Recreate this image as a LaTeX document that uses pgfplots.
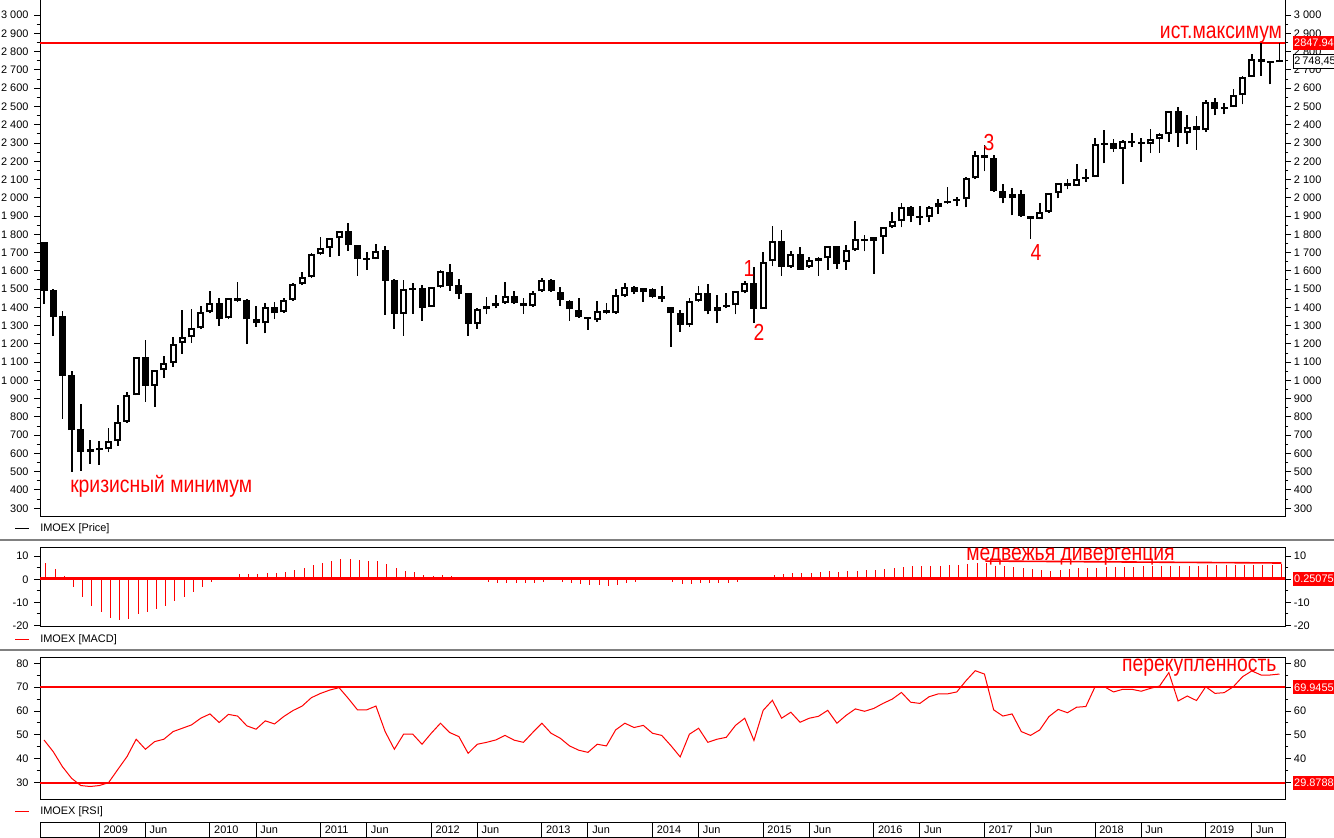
\documentclass[border=0pt]{standalone}
\usepackage{fontspec}
\setmainfont{Liberation Sans}
\usepackage{graphicx}
\usepackage{pgfplots}
\pgfplotsset{compat=1.18}
\usepackage{pgfplotstable}
\definecolor{cred}{RGB}{255,0,0}
\definecolor{sepgray}{RGB}{128,128,128}

\pgfplotstableread{
i O H L C
0 1758 1760 1418 1491
1 1495 1500 1243 1347
2 1353 1382 789 1026
3 1030 1052 500 728
4 734 873 506 610
5 610 674 544 623
6 621 668 537 624
7 623 738 606 670
8 666 865 643 771
9 771 935 767 920
10 920 1128 918 1126
11 1126 1221 884 971
12 971 1057 856 1055
13 1055 1134 1015 1094
14 1094 1238 1075 1198
15 1203 1386 1145 1236
16 1236 1389 1207 1285
17 1285 1408 1280 1373
18 1373 1490 1367 1422
19 1422 1450 1298 1334
20 1340 1454 1338 1450
21 1450 1539 1431 1437
22 1440 1444 1199 1334
23 1334 1408 1294 1313
24 1313 1422 1258 1400
25 1400 1429 1335 1367
26 1373 1451 1371 1439
27 1439 1534 1437 1526
28 1526 1594 1521 1565
29 1565 1696 1563 1690
30 1690 1785 1688 1723
31 1723 1780 1678 1778
32 1778 1819 1683 1817
33 1817 1860 1711 1740
34 1740 1742 1574 1667
35 1665 1701 1605 1668
36 1667 1745 1663 1707
37 1712 1736 1360 1546
38 1550 1554 1283 1366
39 1366 1550 1245 1499
40 1497 1532 1366 1500
41 1504 1521 1327 1398
42 1404 1513 1402 1510
43 1510 1605 1508 1599
44 1592 1636 1492 1519
45 1521 1555 1444 1475
46 1477 1481 1245 1311
47 1311 1395 1283 1389
48 1389 1455 1362 1406
49 1406 1466 1395 1422
50 1422 1539 1420 1460
51 1460 1490 1420 1422
52 1422 1451 1366 1406
53 1406 1490 1404 1477
54 1488 1559 1486 1548
55 1548 1554 1486 1488
56 1482 1512 1409 1439
57 1433 1439 1327 1389
58 1384 1451 1344 1346
59 1346 1348 1278 1335
60 1329 1433 1322 1378
61 1384 1422 1362 1367
62 1367 1501 1365 1466
63 1460 1532 1455 1510
64 1510 1515 1471 1482
65 1482 1506 1431 1504
66 1499 1504 1450 1455
67 1460 1515 1431 1444
68 1400 1402 1185 1367
69 1367 1384 1267 1305
70 1305 1450 1294 1433
71 1433 1515 1431 1477
72 1477 1526 1362 1378
73 1378 1466 1313 1400
74 1411 1477 1395 1406
75 1411 1490 1362 1488
76 1482 1546 1477 1532
77 1532 1621 1316 1393
78 1393 1702 1391 1647
79 1652 1844 1625 1762
80 1762 1824 1574 1623
81 1623 1707 1618 1691
82 1691 1729 1605 1607
83 1619 1676 1617 1658
84 1652 1678 1574 1669
85 1669 1736 1607 1734
86 1734 1736 1612 1639
87 1647 1740 1607 1712
88 1712 1873 1710 1773
89 1773 1795 1707 1762
90 1762 1786 1585 1784
91 1784 1840 1694 1838
92 1838 1921 1833 1871
93 1871 1970 1838 1952
94 1952 1954 1866 1899
95 1899 1953 1849 1893
96 1893 1953 1866 1948
97 1948 1992 1910 1970
98 1970 2057 1968 1981
99 1981 2003 1953 1992
100 1992 2112 1948 2107
101 2107 2255 2105 2233
102 2233 2287 2145 2216
103 2216 2233 2034 2036
104 2036 2074 1970 1997
105 1997 2052 1904 2019
106 2019 2041 1897 1899
107 1900 1902 1776 1884
108 1884 1973 1882 1920
109 1920 2027 1918 2025
110 2025 2083 1997 2081
111 2081 2103 2046 2063
112 2065 2185 2063 2101
113 2101 2156 2087 2114
114 2114 2329 2112 2295
115 2298 2371 2189 2293
116 2298 2320 2251 2269
117 2269 2317 2074 2309
118 2309 2353 2280 2298
119 2306 2328 2198 2296
120 2296 2375 2244 2320
121 2320 2353 2247 2348
122 2348 2476 2307 2474
123 2474 2495 2280 2353
124 2353 2452 2293 2390
125 2393 2448 2262 2370
126 2370 2536 2359 2523
127 2523 2545 2452 2484
128 2484 2517 2457 2497
129 2497 2594 2495 2561
130 2561 2667 2512 2663
131 2663 2787 2661 2762
132 2762 2846 2669 2744
133 2746 2748 2621 2744
134 2748 2848 2744 2745
}\candles

\pgfplotstableread{
i v
0 6.9
1 4.5
2 1.4
3 -3.2
4 -7.5
5 -11.4
6 -14.3
7 -16.6
8 -17.5
9 -17.0
10 -14.9
11 -14.0
12 -12.7
13 -11.4
14 -9.4
15 -7.5
16 -5.3
17 -3.2
18 -1.0
19 0.3
20 0.8
21 2.3
22 2.3
23 2.3
24 2.7
25 2.7
26 3.2
27 4.0
28 4.9
29 6.2
30 7.1
31 7.9
32 8.8
33 8.8
34 8.4
35 7.9
36 7.9
37 6.5
38 4.7
39 3.7
40 3.3
41 1.9
42 1.5
43 1.9
44 1.5
45 1.0
46 0.5
47 0.2
48 -1.0
49 -1.5
50 -1.5
51 -1.5
52 -1.5
53 -1.5
54 -1.0
55 -0.5
56 -1.0
57 -1.5
58 -1.9
59 -2.5
60 -2.5
61 -3.0
62 -2.5
63 -1.5
64 -1.0
65 -0.5
66 -0.3
67 -0.5
68 -1.0
69 -1.9
70 -1.9
71 -1.5
72 -1.5
73 -1.5
74 -1.5
75 -1.0
76 -0.5
77 0.3
78 0.8
79 1.9
80 2.4
81 2.8
82 2.8
83 2.8
84 3.3
85 3.7
86 3.3
87 3.7
88 3.7
89 4.2
90 4.2
91 4.6
92 5.1
93 5.5
94 5.6
95 5.6
96 5.6
97 5.8
98 6.0
99 6.3
100 6.6
101 7.2
102 6.9
103 5.8
104 5.8
105 5.2
106 4.8
107 4.3
108 4.0
109 3.7
110 4.0
111 4.3
112 4.8
113 4.8
114 5.1
115 5.2
116 5.5
117 5.5
118 5.5
119 5.8
120 5.8
121 5.8
122 5.8
123 5.8
124 5.8
125 5.8
126 6.0
127 6.0
128 6.0
129 6.0
130 6.0
131 6.3
132 6.3
133 6.3
134 6.6
}\macd

\pgfplotstableread{
i v
0 47.9
1 43.0
2 36.7
3 31.8
4 28.8
5 28.4
6 28.8
7 30.0
8 35.5
9 40.9
10 48.2
11 44.0
12 47.2
13 48.2
14 51.4
15 52.8
16 54.2
17 57.0
18 58.8
19 55.2
20 58.6
21 57.9
22 53.8
23 52.4
24 55.9
25 54.6
26 57.7
27 60.2
28 62.1
29 65.6
30 67.4
31 68.8
32 69.8
33 65.3
34 60.5
35 60.5
36 62.1
37 51.4
38 44.0
39 50.3
40 50.3
41 46.1
42 50.7
43 54.9
44 51.0
45 49.3
46 42.3
47 46.1
48 46.9
49 47.9
50 49.8
51 47.8
52 46.9
53 51.0
54 54.9
55 50.7
56 48.6
57 45.4
58 43.6
59 42.7
60 46.1
61 45.4
62 52.1
63 54.9
64 53.1
65 54.0
66 50.7
67 49.8
68 45.5
69 40.8
70 50.3
71 52.8
72 46.9
73 48.2
74 49.0
75 54.0
76 57.0
77 47.7
78 60.3
79 64.5
80 57.0
81 59.5
82 55.3
83 57.0
84 57.8
85 60.3
86 54.9
87 58.2
88 60.9
89 59.9
90 61.1
91 63.2
92 65.0
93 67.8
94 63.7
95 63.2
96 66.0
97 67.2
98 67.2
99 68.0
100 72.7
101 76.9
102 75.5
103 60.5
104 57.9
105 58.8
106 51.4
107 49.8
108 52.1
109 57.7
110 60.7
111 59.3
112 61.6
113 61.9
114 70.2
115 70.2
116 68.0
117 69.1
118 69.1
119 68.3
120 69.5
121 70.5
122 76.1
123 64.2
124 66.3
125 64.4
126 70.2
127 67.4
128 67.7
129 70.2
130 74.4
131 76.8
132 75.1
133 75.1
134 75.5
}\rsi

\newcommand{\tf}{\fontsize{8.2}{9.5}\selectfont}
\newcommand{\af}[1]{\scalebox{1}[1.2]{\fontsize{14.5}{17}\selectfont #1}}

\tikzset{
  lbox/.style={anchor=west, font=\tf, inner xsep=1pt, inner ysep=0pt, minimum height=10.5pt, xshift=5.7pt},
}
\pgfplotsset{
  panel/.style={
    scale only axis, width=933.75pt, xmin=-0.434, xmax=134.6,
    axis line style={black, line width=0.75pt},
    tick align=outside, major tick length=4.5pt, minor tick length=2.5pt,
    every tick/.style={black, line width=0.75pt},
    xtick=\empty,
    ticklabel style={font=\tf},
    /pgf/number format/assume math mode=true,
    /pgf/number format/1000 sep={\ },
    clip mode=individual,
    yticklabel style={xshift=-0.6pt},
  },
  rpanel/.style={
    scale only axis, width=933.75pt, xmin=-0.434, xmax=134.6,
    axis line style={draw=none},
    major tick length=0pt, minor tick num=0,
    xtick=\empty,
    yticklabel pos=right,
    ticklabel style={font=\tf},
    /pgf/number format/assume math mode=true,
    /pgf/number format/1000 sep={\ },
    clip=false,
    yticklabel style={xshift=3.2pt},
  },
}

\begin{document}
\begin{tikzpicture}
\path[use as bounding box] (0,0) rectangle (1000.5pt,628.5pt);
% separators
\draw[sepgray, line width=1.2pt] (0,223.5pt) -- (1000.5pt,223.5pt);
\draw[sepgray, line width=1.2pt] (0,141pt) -- (1000.5pt,141pt);

% ---------------- price panel
\begin{axis}[panel, at={(30pt,240.75pt)}, anchor=south west, height=387.75pt,
  ymin=252.1, ymax=3083.2, ytick={300,400,...,3000}, minor y tick num=1]
  \addplot[cred, line width=1.5pt, forget plot] coordinates {(-1,2847.94) (136,2847.94)};
  % wicks
  \addplot[draw=none, mark=none, forget plot,
    error bars/.cd, y dir=plus, y explicit, error mark=none,
    error bar style={draw=black, line width=1.3pt}]
    table[x=i, y=L, y error plus expr={\thisrow{H}-\thisrow{L}}] {\candles};
  % bodies (outer black)
  \addplot[draw=none, mark=none, forget plot,
    error bars/.cd, y dir=plus, y explicit, error mark=none,
    error bar style={draw=black, line width=5.25pt}]
    table[x=i, y expr={min(\thisrow{O},\thisrow{C})-max(0,11-abs(\thisrow{C}-\thisrow{O}))/2},
      y error plus expr={max(11,abs(\thisrow{C}-\thisrow{O}))}] {\candles};
  % white interiors of rising candles
  \addplot[draw=none, mark=none, forget plot,
    error bars/.cd, y dir=plus, y explicit, error mark=none,
    error bar style={draw=white, line width=2.25pt}]
    table[x=i, y expr={min(\thisrow{O},\thisrow{C})+11},
      y error plus expr={(\thisrow{C}>\thisrow{O})*max(0,abs(\thisrow{C}-\thisrow{O})-22)}] {\candles};
  \node[anchor=base east, text=cred, inner sep=0pt] at (axis cs:134.3,2870) {\af{ист.максимум}};
  \node[anchor=base west, text=cred, inner sep=0pt] at (axis cs:2.82,384) {\af{кризисный минимум}};
  \node[text=cred, inner sep=0pt] at (axis cs:76.46,1610) {\af{1}};
  \node[text=cred, inner sep=0pt] at (axis cs:77.55,1265) {\af{2}};
  \node[text=cred, inner sep=0pt] at (axis cs:102.5,2301) {\af{3}};
  \node[text=cred, inner sep=0pt] at (axis cs:107.6,1699) {\af{4}};
\end{axis}
\begin{axis}[rpanel, at={(30pt,240.75pt)}, anchor=south west, height=387.75pt,
  ymin=252.1, ymax=3083.2, ytick={300,400,...,3000}]
  \node[lbox, fill=cred, text=white] at (axis cs:134.6,2847.94) {2847.94};
  \node[lbox, fill=white, draw=black, line width=0.75pt, text=black] at (axis cs:134.6,2748.45) {2\,748,45};
\end{axis}

% ---------------- MACD panel
\begin{axis}[panel, at={(30pt,158.475pt)}, anchor=south west, height=59.55pt,
  ymin=-20.5, ymax=13.85, ytick={-20,-10,0,10}, minor y tick num=1]
  \addplot[ycomb, cred, line width=0.75pt, mark=none, forget plot] table[x expr={\thisrow{i}+0.2}, y=v] {\macd};
  \addplot[cred, line width=2.25pt, forget plot] coordinates {(-1,0.25075) (136,0.25075)};
  \addplot[cred, line width=1.2pt, forget plot] coordinates {(102.1,7.9) (134.2,7.05)};
  \node[anchor=base west, text=cred, inner sep=0pt] at (axis cs:100.0,8.35) {\af{медвежья дивергенция}};
\end{axis}
\begin{axis}[rpanel, at={(30pt,158.475pt)}, anchor=south west, height=59.55pt,
  ymin=-20.5, ymax=13.85, ytick={-20,-10,10}]
  \node[lbox, fill=cred, text=white] at (axis cs:134.6,0.25) {0.25075};
\end{axis}

% ---------------- RSI panel
\begin{axis}[panel, at={(30pt,28.5pt)}, anchor=south west, height=107pt,
  ymin=22.75, ymax=82.5, ytick={30,40,...,80}, minor y tick num=1]
  \addplot[cred, line width=1.5pt, forget plot] coordinates {(-1,69.9455) (136,69.9455)};
  \addplot[cred, line width=1.5pt, forget plot] coordinates {(-1,29.8788) (136,29.8788)};
  \addplot[cred, line width=0.75pt, mark=none, forget plot] table[x=i, y=v] {\rsi};
  \node[anchor=base east, text=cred, inner sep=0pt] at (axis cs:133.7,76.4) {\af{перекупленность}};
\end{axis}
\begin{axis}[rpanel, at={(30pt,28.5pt)}, anchor=south west, height=107pt,
  ymin=22.75, ymax=82.5, ytick={40,50,60,80}]
  \node[lbox, fill=cred, text=white] at (axis cs:134.6,69.9455) {69.9455};
  \node[lbox, fill=cred, text=white] at (axis cs:134.6,29.8788) {29.8788};
\end{axis}

% ---------------- date bar
\begin{axis}[scale only axis, width=933.75pt, height=11.25pt, at={(30pt,0.525pt)}, anchor=south west,
  xmin=-0.434, xmax=134.6, ymin=0, ymax=1, ytick=\empty,
  xtick={6,11,18,23,30,35,42,47,54,59,66,71,78,83,90,95,102,107,114,119,126,131},
  xticklabels={}, major tick length=0pt, xmajorgrids,
  grid style={black, line width=0.75pt}, axis line style={black, line width=0.75pt}, clip=false]
  \foreach \p/\t in {6/2009,11/Jun,18/2010,23/Jun,30/2011,35/Jun,42/2012,47/Jun,54/2013,59/Jun,66/2014,71/Jun,78/2015,83/Jun,90/2016,95/Jun,102/2017,107/Jun,114/2018,119/Jun,126/2019,131/Jun}{
    \edef\temp{\noexpand\node[anchor=west, font=\noexpand\tf, inner sep=0pt, xshift=3pt] at (axis cs:\p,0.5) {\t};}
    \temp
  }
\end{axis}

% legends
\draw[black, line width=0.75pt] (11.5pt,231.75pt) -- (21.5pt,231.75pt);
\node[anchor=west, font=\tf, inner sep=0pt] at (30pt,231.75pt) {IMOEX [Price]};
\draw[cred, line width=0.75pt] (11.5pt,148.5pt) -- (21.5pt,148.5pt);
\node[anchor=west, font=\tf, inner sep=0pt] at (30pt,148.5pt) {IMOEX [MACD]};
\draw[cred, line width=0.75pt] (11.5pt,19.5pt) -- (21.5pt,19.5pt);
\node[anchor=west, font=\tf, inner sep=0pt] at (30pt,19.5pt) {IMOEX [RSI]};
\end{tikzpicture}
\end{document}
